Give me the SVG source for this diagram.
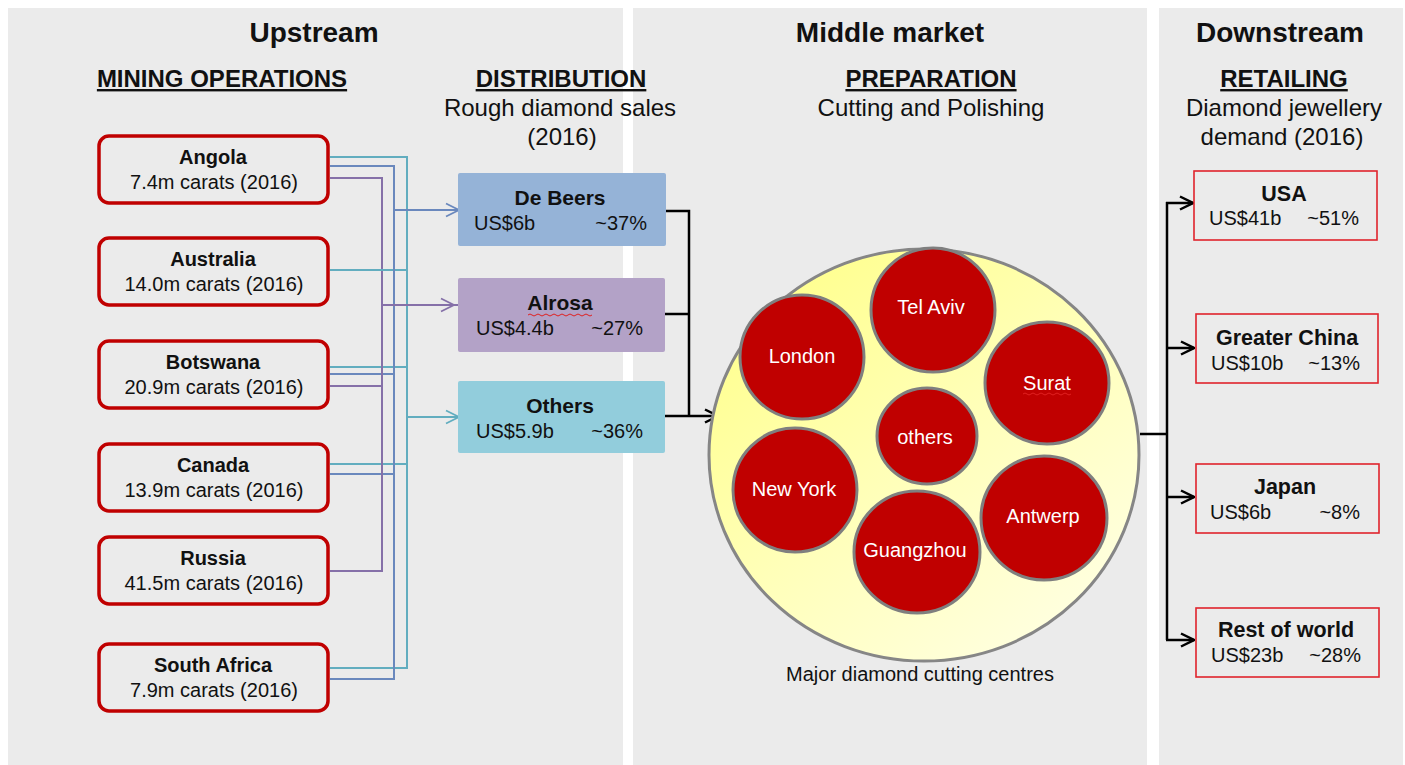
<svg xmlns="http://www.w3.org/2000/svg" width="1405" height="765" viewBox="0 0 1405 765">
  <style>
    text { font-family: "Liberation Sans", Arial, sans-serif; fill: #111; }
    .h1 { font-size: 28px; font-weight: bold; text-anchor: middle; }
    .h2 { font-size: 24px; font-weight: bold; text-anchor: middle; text-decoration: underline; }
    .h3 { font-size: 24px; text-anchor: middle; }
    .t { font-size: 20px; font-weight: bold; text-anchor: middle; }
    .td { font-size: 21px; font-weight: bold; text-anchor: middle; }
    .tr { font-size: 21.5px; font-weight: bold; text-anchor: middle; }
    .s { font-size: 20px; text-anchor: middle; }
    .sl { font-size: 20px; text-anchor: start; }
    .se { font-size: 20px; text-anchor: end; }
    .city { font-size: 20px; text-anchor: middle; fill: #fff; }
    .panel { fill: #ebebeb; }
    .mine { fill: none; stroke: #c00000; stroke-width: 3.5; }
    .retail { fill: none; stroke: #e0242c; stroke-width: 1.6; }
    .centre { fill: #c00000; stroke: #7f7f7f; stroke-width: 3; }
    .wc { fill: none; stroke-width: 2; }
    .teal { stroke: #62adbf; }
    .blue { stroke: #6a88bd; }
    .purple { stroke: #8570a8; }
    .flow { fill: none; stroke: #000; stroke-width: 2.5; }
    .squiggle { fill: none; stroke: #e02020; stroke-width: 1; }
  </style>
  <defs>
    <linearGradient id="hubFill" x1="0.1" y1="0.05" x2="0.85" y2="0.95">
      <stop offset="0" stop-color="#ffff8a"/>
      <stop offset="0.5" stop-color="#ffffb8"/>
      <stop offset="1" stop-color="#ffffe2"/>
    </linearGradient>
    <marker id="arrBlack" viewBox="0 0 16 16" refX="15" refY="8" markerWidth="16" markerHeight="16" markerUnits="userSpaceOnUse" orient="auto">
      <path d="M2,1.5 L15,8 L2,14.5" fill="none" stroke="#000" stroke-width="2.5"/>
    </marker>
    <marker id="arrBlue" viewBox="0 0 16 16" refX="15" refY="8" markerWidth="16" markerHeight="16" markerUnits="userSpaceOnUse" orient="auto">
      <path d="M2,1.5 L15,8 L2,14.5" fill="none" stroke="#6a88bd" stroke-width="1.8"/>
    </marker>
    <marker id="arrPurple" viewBox="0 0 16 16" refX="15" refY="8" markerWidth="16" markerHeight="16" markerUnits="userSpaceOnUse" orient="auto">
      <path d="M2,1.5 L15,8 L2,14.5" fill="none" stroke="#8570a8" stroke-width="1.8"/>
    </marker>
    <marker id="arrTeal" viewBox="0 0 16 16" refX="15" refY="8" markerWidth="16" markerHeight="16" markerUnits="userSpaceOnUse" orient="auto">
      <path d="M2,1.5 L15,8 L2,14.5" fill="none" stroke="#62adbf" stroke-width="1.8"/>
    </marker>
  </defs>

  <rect width="1405" height="765" fill="#fff"/>

  <!-- value-chain stages -->
  <g id="panels">
    <rect class="panel" x="8" y="8" width="615" height="757"/>
    <rect class="panel" x="633" y="8" width="514" height="757"/>
    <rect class="panel" x="1159" y="8" width="244" height="757"/>
  </g>

  <g id="headings">
    <text class="h1" x="314" y="42">Upstream</text>
    <text class="h1" x="890" y="42">Middle market</text>
    <text class="h1" x="1280" y="42">Downstream</text>
    <text class="h2" x="222" y="87">MINING OPERATIONS</text>
    <text class="h2" x="561" y="87">DISTRIBUTION</text>
    <text class="h2" x="931" y="87">PREPARATION</text>
    <text class="h2" x="1284" y="87">RETAILING</text>
    <text class="h3" x="560" y="116">Rough diamond sales</text>
    <text class="h3" x="562" y="145">(2016)</text>
    <text class="h3" x="931" y="116">Cutting and Polishing</text>
    <text class="h3" x="1284" y="116">Diamond jewellery</text>
    <text class="h3" x="1282" y="145">demand (2016)</text>
  </g>

  <!-- mine-to-seller and flow connectors -->
  <g id="connectors">
    <!-- Angola -->
    <polyline class="wc teal" points="330,157 407,157 407,417"/>
    <polyline class="wc blue" points="330,166 394,166 394,210"/>
    <polyline class="wc purple" points="330,178 382,178 382,305"/>
    <!-- Australia -->
    <polyline class="wc teal" points="330,270 407,270"/>
    <!-- Botswana -->
    <polyline class="wc teal" points="330,367 407,367"/>
    <polyline class="wc blue" points="330,374 394,374"/>
    <polyline class="wc purple" points="330,386 382,386"/>
    <!-- Canada -->
    <polyline class="wc teal" points="330,464 407,464"/>
    <polyline class="wc blue" points="330,474 394,474"/>
    <!-- Russia -->
    <polyline class="wc purple" points="330,571 382,571 382,305"/>
    <!-- South Africa -->
    <polyline class="wc teal" points="330,668 407,668 407,417"/>
    <polyline class="wc blue" points="330,679 394,679 394,210"/>
    <!-- into the sellers -->
    <line class="wc blue" x1="394" y1="210" x2="459" y2="210" marker-end="url(#arrBlue)"/>
    <line class="wc purple" x1="382" y1="305" x2="454" y2="305" marker-end="url(#arrPurple)"/>
    <line class="wc purple" x1="450" y1="305" x2="460" y2="305"/>
    <line class="wc teal" x1="407" y1="417" x2="459" y2="417" marker-end="url(#arrTeal)"/>

    <!-- sellers to cutting centres -->
    <polyline class="flow" points="664,211 689,211 689,416"/>
    <line class="flow" x1="664" y1="314" x2="689" y2="314"/>
    <line class="flow" x1="660" y1="416" x2="718" y2="416" marker-end="url(#arrBlack)"/>

    <!-- cutting centres to retail markets -->
    <polyline class="flow" points="1140,434 1167,434"/>
    <line class="flow" x1="1167" y1="202" x2="1167" y2="640"/>
    <line class="flow" x1="1166" y1="203" x2="1193" y2="203" marker-end="url(#arrBlack)"/>
    <line class="flow" x1="1166" y1="348" x2="1194" y2="348" marker-end="url(#arrBlack)"/>
    <line class="flow" x1="1166" y1="497" x2="1194" y2="497" marker-end="url(#arrBlack)"/>
    <line class="flow" x1="1166" y1="640" x2="1194" y2="640" marker-end="url(#arrBlack)"/>
  </g>

  <!-- mining operations -->
  <g id="mine-angola">
    <rect class="mine" x="99" y="136" width="229" height="67" rx="10"/>
    <text class="t" x="213" y="164">Angola</text>
    <text class="s" x="214" y="189">7.4m carats (2016)</text>
  </g>
  <g id="mine-australia">
    <rect class="mine" x="99" y="238" width="229" height="67" rx="10"/>
    <text class="t" x="213" y="266">Australia</text>
    <text class="s" x="214" y="291">14.0m carats (2016)</text>
  </g>
  <g id="mine-botswana">
    <rect class="mine" x="99" y="341" width="229" height="67" rx="10"/>
    <text class="t" x="213" y="369">Botswana</text>
    <text class="s" x="214" y="394">20.9m carats (2016)</text>
  </g>
  <g id="mine-canada">
    <rect class="mine" x="99" y="444" width="229" height="67" rx="10"/>
    <text class="t" x="213" y="472">Canada</text>
    <text class="s" x="214" y="497">13.9m carats (2016)</text>
  </g>
  <g id="mine-russia">
    <rect class="mine" x="99" y="537" width="229" height="67" rx="10"/>
    <text class="t" x="213" y="565">Russia</text>
    <text class="s" x="214" y="590">41.5m carats (2016)</text>
  </g>
  <g id="mine-south-africa">
    <rect class="mine" x="99" y="644" width="229" height="67" rx="10"/>
    <text class="t" x="213" y="672">South Africa</text>
    <text class="s" x="214" y="697">7.9m carats (2016)</text>
  </g>

  <!-- rough diamond sellers -->
  <g id="seller-de-beers">
    <rect x="458" y="173" width="208" height="73" rx="2" fill="#95b3d7"/>
    <text class="td" x="560" y="205">De Beers</text>
    <text class="sl" x="474" y="230">US$6b</text>
    <text class="se" x="647" y="230">~37%</text>
  </g>
  <g id="seller-alrosa">
    <rect x="458" y="278" width="207" height="74" rx="2" fill="#b3a2c7"/>
    <text class="td" x="560" y="310">Alrosa</text>
    <path class="squiggle" d="M528,315 q2,-2 4,0 t4,0 t4,0 t4,0 t4,0 t4,0 t4,0 t4,0 t4,0 t4,0 t4,0 t4,0 t4,0 t4,0 t4,0 t4,0"/>
    <text class="sl" x="476" y="335">US$4.4b</text>
    <text class="se" x="643" y="335">~27%</text>
  </g>
  <g id="seller-others">
    <rect x="458" y="381" width="207" height="72" rx="2" fill="#92cddc"/>
    <text class="td" x="560" y="413">Others</text>
    <text class="sl" x="476" y="438">US$5.9b</text>
    <text class="se" x="643" y="438">~36%</text>
  </g>

  <!-- cutting and polishing centres -->
  <g id="cutting-centres">
    <ellipse cx="924" cy="455" rx="215" ry="206" fill="url(#hubFill)" stroke="#868686" stroke-width="3"/>
    <text class="s" x="920" y="681">Major diamond cutting centres</text>
  </g>
  <g id="centre-tel-aviv">
    <circle class="centre" cx="933" cy="310" r="62"/>
    <text class="city" x="931" y="314">Tel Aviv</text>
  </g>
  <g id="centre-london">
    <circle class="centre" cx="802" cy="357" r="62"/>
    <text class="city" x="802" y="363">London</text>
  </g>
  <g id="centre-surat">
    <ellipse class="centre" cx="1047" cy="383" rx="62" ry="61"/>
    <text class="city" x="1047" y="390">Surat</text>
    <path class="squiggle" d="M1023,394 q2,-2 4,0 t4,0 t4,0 t4,0 t4,0 t4,0 t4,0 t4,0 t4,0 t4,0 t4,0 t4,0"/>
  </g>
  <g id="centre-others">
    <ellipse class="centre" cx="927" cy="436" rx="50" ry="48"/>
    <text class="city" x="925" y="444">others</text>
  </g>
  <g id="centre-new-york">
    <circle class="centre" cx="795" cy="490" r="62"/>
    <text class="city" x="794" y="496">New York</text>
  </g>
  <g id="centre-guangzhou">
    <ellipse class="centre" cx="917" cy="552" rx="63" ry="61"/>
    <text class="city" x="915" y="557">Guangzhou</text>
  </g>
  <g id="centre-antwerp">
    <ellipse class="centre" cx="1044" cy="518" rx="63" ry="62"/>
    <text class="city" x="1043" y="523">Antwerp</text>
  </g>

  <!-- jewellery retail markets -->
  <g id="market-usa">
    <rect class="retail" x="1194" y="171" width="183" height="69"/>
    <text class="tr" x="1284" y="201">USA</text>
    <text class="sl" x="1209" y="225">US$41b</text>
    <text class="se" x="1359" y="225">~51%</text>
  </g>
  <g id="market-greater-china">
    <rect class="retail" x="1196" y="314" width="182" height="69"/>
    <text class="tr" x="1287" y="345">Greater China</text>
    <text class="sl" x="1211" y="370">US$10b</text>
    <text class="se" x="1360" y="370">~13%</text>
  </g>
  <g id="market-japan">
    <rect class="retail" x="1196" y="464" width="183" height="69"/>
    <text class="tr" x="1285" y="494">Japan</text>
    <text class="sl" x="1210" y="519">US$6b</text>
    <text class="se" x="1360" y="519">~8%</text>
  </g>
  <g id="market-rest-of-world">
    <rect class="retail" x="1196" y="608" width="183" height="69"/>
    <text class="tr" x="1286" y="637">Rest of world</text>
    <text class="sl" x="1211" y="662">US$23b</text>
    <text class="se" x="1361" y="662">~28%</text>
  </g>
</svg>
